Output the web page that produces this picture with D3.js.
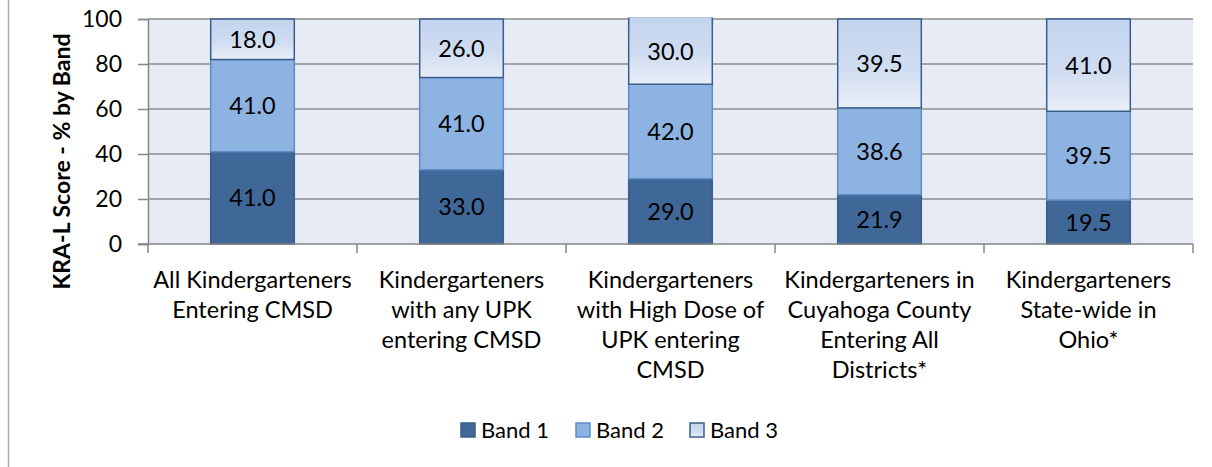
<!DOCTYPE html>
<html>
<head>
<meta charset="utf-8">
<script src="https://cdn.jsdelivr.net/npm/d3@7"></script>
<style>
  body { margin: 0; background: #fff; }
  svg { display: block; font-family: Lato, "Open Sans", sans-serif; }
</style>
</head>
<body>
<div id="chart"></div>
<script>
// data ---------------------------------------------------------
const categories = [
  ['All Kindergarteners', 'Entering CMSD'],
  ['Kindergarteners', 'with any UPK', 'entering CMSD'],
  ['Kindergarteners', 'with High Dose of', 'UPK entering', 'CMSD'],
  ['Kindergarteners in', 'Cuyahoga County', 'Entering All', 'Districts*'],
  ['Kindergarteners', 'State-wide in', 'Ohio*']
];
const band1 = [41.0, 33.0, 29.0, 21.9, 19.5];
const band2 = [41.0, 41.0, 42.0, 38.6, 39.5];
const band3 = [18.0, 26.0, 30.0, 39.5, 41.0];
const bandNames = ['Band 1', 'Band 2', 'Band 3'];
const yTicks = [0, 20, 40, 60, 80, 100];

// layout -------------------------------------------------------
const width = 1212;
const height = 467;
const plot = { left: 148, right: 1193, top: 19, bottom: 244 };

const svg = d3.select('#chart').append('svg')
  .attr('width', width)
  .attr('height', height);

const defs = svg.append('defs');
const grad = defs.append('linearGradient')
  .attr('id', 'band3grad')
  .attr('x1', 0).attr('y1', 0).attr('x2', 0).attr('y2', 1);
grad.append('stop').attr('offset', '0%').attr('stop-color', '#c4d4ee');
grad.append('stop').attr('offset', '55%').attr('stop-color', '#cfdcf1');
grad.append('stop').attr('offset', '100%').attr('stop-color', '#e9eef7');

defs.append('clipPath').attr('id', 'plotclip')
  .append('rect')
  .attr('x', plot.left - 5).attr('y', plot.top - 1.5)
  .attr('width', plot.right - plot.left + 10)
  .attr('height', plot.bottom - plot.top + 3);

// left frame line
svg.append('line')
  .attr('x1', 8.5).attr('x2', 8.5)
  .attr('y1', 0).attr('y2', height)
  .attr('stroke', '#a6a6a6').attr('stroke-width', 1.5);

const x = d3.scaleBand()
  .domain(d3.range(categories.length))
  .range([plot.left, plot.right])
  .paddingInner(0.6)
  .paddingOuter(0.3);

const y = d3.scaleLinear().domain([0, 100]).range([plot.bottom, plot.top]);

// plot background
svg.append('rect')
  .attr('x', plot.left).attr('y', plot.top)
  .attr('width', plot.right - plot.left)
  .attr('height', plot.bottom - plot.top)
  .attr('fill', '#e6ebf5');

// gridlines + y axis
const yAxis = svg.append('g')
  .attr('transform', `translate(${plot.left},0)`)
  .call(d3.axisLeft(y).tickValues(yTicks).tickSize(10).tickPadding(16));
yAxis.select('.domain').attr('stroke', '#868686').attr('stroke-width', 1.5);
yAxis.selectAll('.tick line').attr('stroke', '#868686').attr('stroke-width', 1.5);
yAxis.selectAll('.tick text')
  .attr('font-size', 23)
  .attr('fill', '#000')
  .attr('font-family', 'Lato, sans-serif');

svg.append('g')
  .selectAll('line')
  .data(yTicks.filter(d => d > 0))
  .join('line')
  .attr('x1', plot.left).attr('x2', plot.right)
  .attr('y1', d => y(d)).attr('y2', d => y(d))
  .attr('stroke', '#8c8c8c').attr('stroke-width', 1.5);

// stacked series
const rows = categories.map((c, i) => ({ i, b1: band1[i], b2: band2[i], b3: band3[i] }));
const stack = d3.stack().keys(['b1', 'b2', 'b3'])(rows);
const fills = ['#3f6797', '#8db3e2', 'url(#band3grad)'];
const strokes = ['#3b5e8a', '#5d8cc8', '#3a5e8c'];
const values = [band1, band2, band3];

const bars = svg.append('g').attr('clip-path', 'url(#plotclip)');
stack.forEach((series, k) => {
  bars.append('g')
    .selectAll('rect')
    .data(series)
    .join('rect')
    .attr('x', d => x(d.data.i))
    .attr('width', x.bandwidth())
    .attr('y', d => y(d[1]))
    .attr('height', d => y(d[0]) - y(d[1]))
    .attr('fill', fills[k])
    .attr('stroke', strokes[k])
    .attr('stroke-width', 1.5);
});

// data labels (centred on visible part of each segment)
stack.forEach((series, k) => {
  svg.append('g')
    .selectAll('text')
    .data(series)
    .join('text')
    .attr('x', d => x(d.data.i) + x.bandwidth() / 2)
    .attr('y', d => (y(d[0]) + y(Math.min(d[1], 100))) / 2)
    .attr('dy', '0.36em')
    .attr('text-anchor', 'middle')
    .attr('font-size', 23.5)
    .attr('fill', '#000')
    .text((d, i) => values[k][i].toFixed(1));
});

// x axis with ticks between categories
const xAxis = svg.append('g');
xAxis.append('line')
  .attr('x1', plot.left - 10).attr('x2', plot.right)
  .attr('y1', plot.bottom).attr('y2', plot.bottom)
  .attr('stroke', '#868686').attr('stroke-width', 1.5);
xAxis.selectAll('line.tk')
  .data(d3.range(categories.length + 1))
  .join('line')
  .attr('class', 'tk')
  .attr('x1', i => plot.left + i * (plot.right - plot.left) / categories.length)
  .attr('x2', i => plot.left + i * (plot.right - plot.left) / categories.length)
  .attr('y1', plot.bottom).attr('y2', plot.bottom + 9)
  .attr('stroke', '#868686').attr('stroke-width', 1.5);

const catLabels = svg.append('g')
  .selectAll('text')
  .data(categories)
  .join('text')
  .attr('text-anchor', 'middle')
  .attr('font-size', 23.5)
  .attr('fill', '#000');
catLabels.selectAll('tspan')
  .data((d, i) => d.map(line => ({ line, i })))
  .join('tspan')
  .attr('x', d => x(d.i) + x.bandwidth() / 2)
  .attr('y', (d, j) => 288 + j * 30)
  .text(d => d.line);

// y axis title
svg.append('text')
  .attr('transform', `translate(70,${(30 + 293) / 2}) rotate(-90)`)
  .attr('text-anchor', 'middle')
  .attr('font-size', 23)
  .attr('font-weight', 'bold')
  .attr('fill', '#000')
  .text('KRA-L Score - % by Band');

// legend
const legendX = [461, 576, 690];
const legend = svg.append('g')
  .selectAll('g')
  .data(bandNames)
  .join('g')
  .attr('transform', (d, i) => `translate(${legendX[i]},423)`);
legend.append('rect')
  .attr('width', 14).attr('height', 14)
  .attr('fill', (d, i) => fills[i])
  .attr('stroke', (d, i) => strokes[i])
  .attr('stroke-width', 1.5);
legend.append('text')
  .attr('x', 20).attr('y', 7).attr('dy', '0.36em')
  .attr('font-size', 22)
  .attr('fill', '#000')
  .text(d => d);
</script>
</body>
</html>
